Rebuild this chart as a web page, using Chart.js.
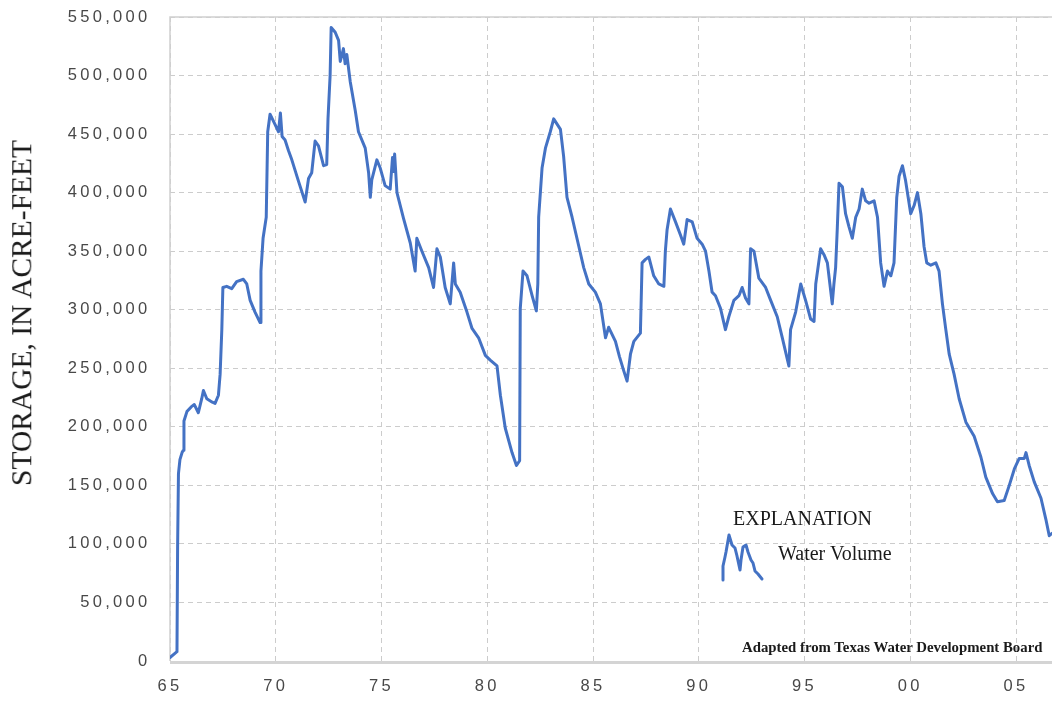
<!DOCTYPE html>
<html>
<head>
<meta charset="utf-8">
<script src="https://cdn.jsdelivr.net/npm/chart.js@4"></script>
<style>
  html, body { margin: 0; padding: 0; background: #ffffff; }
  #wrap { position: relative; width: 1052px; height: 701px; overflow: hidden; background: #ffffff; }
  #chart { position: absolute; left: 0; top: 0; }
  .ytitle {
    position: absolute; left: 22px; top: 313px;
    transform: translate(-50%, -50%) rotate(-90deg);
    font: 29.5px 'Liberation Serif', 'Times New Roman', serif;
    line-height: 1; white-space: nowrap; color: #1a1a1a;
  }
  .legend-head {
    position: absolute; left: 733px; top: 508px;
    font: 20px 'Liberation Serif', 'Times New Roman', serif;
    line-height: 1; white-space: nowrap; color: #1a1a1a;
  }
  .legend-item {
    position: absolute; left: 778px; top: 543px;
    font: 20px 'Liberation Serif', 'Times New Roman', serif;
    line-height: 1; white-space: nowrap; color: #1a1a1a;
  }
  .source {
    position: absolute; left: 742px; top: 640px;
    font: bold 14.8px 'Liberation Serif', 'Times New Roman', serif;
    line-height: 1; white-space: nowrap; color: #1a1a1a;
  }
</style>
</head>
<body>
<div id="wrap">
  <canvas id="chart" width="1052" height="701"></canvas>
  <div class="ytitle">STORAGE, IN ACRE-FEET</div>
  <div class="legend-head">EXPLANATION</div>
  <div class="legend-item">Water Volume</div>
  <div class="source">Adapted from Texas Water Development Board</div>
</div>
<script>
// ---- Data (decimal year, storage in acre-feet) ----
const years = [
  1965.00, 1965.33, 1965.36, 1965.40, 1965.47, 1965.57, 1965.63, 1965.66, 1965.80, 1966.00,
  1966.15, 1966.34, 1966.50, 1966.58, 1966.74, 1967.00, 1967.13, 1967.29, 1967.37, 1967.45,
  1967.50, 1967.68, 1967.92, 1968.15, 1968.47, 1968.63, 1968.79, 1969.02, 1969.26, 1969.30,
  1969.40, 1969.55, 1969.62, 1969.73, 1969.97, 1970.13, 1970.22, 1970.30, 1970.44, 1970.60,
  1970.76, 1971.07, 1971.39, 1971.55, 1971.70, 1971.86, 1972.02, 1972.26, 1972.41, 1972.47,
  1972.57, 1972.62, 1972.81, 1972.97, 1973.05, 1973.20, 1973.28, 1973.36, 1973.52, 1973.76,
  1973.91, 1974.23, 1974.39, 1974.47, 1974.54, 1974.78, 1974.94, 1975.17, 1975.41, 1975.52,
  1975.57, 1975.62, 1975.73, 1976.04, 1976.36, 1976.59, 1976.67, 1976.91, 1977.23, 1977.46,
  1977.62, 1977.78, 1978.01, 1978.25, 1978.41, 1978.49, 1978.72, 1979.04, 1979.28, 1979.59,
  1979.91, 1980.14, 1980.46, 1980.62, 1980.85, 1981.17, 1981.38, 1981.53, 1981.56, 1981.69,
  1981.88, 1982.12, 1982.32, 1982.39, 1982.43, 1982.59, 1982.75, 1982.98, 1983.14, 1983.46,
  1983.61, 1983.77, 1984.01, 1984.33, 1984.56, 1984.80, 1985.11, 1985.35, 1985.59, 1985.74,
  1986.06, 1986.25, 1986.45, 1986.61, 1986.77, 1986.93, 1987.24, 1987.32, 1987.48, 1987.64,
  1987.87, 1988.11, 1988.35, 1988.42, 1988.50, 1988.66, 1988.90, 1989.13, 1989.29, 1989.45,
  1989.69, 1989.92, 1990.16, 1990.32, 1990.48, 1990.63, 1990.79, 1991.03, 1991.26, 1991.42,
  1991.66, 1991.90, 1992.05, 1992.21, 1992.37, 1992.45, 1992.61, 1992.84, 1993.16, 1993.40,
  1993.71, 1993.95, 1994.26, 1994.34, 1994.58, 1994.82, 1995.05, 1995.29, 1995.45, 1995.53,
  1995.76, 1995.92, 1996.08, 1996.31, 1996.39, 1996.47, 1996.55, 1996.63, 1996.79, 1996.94,
  1997.10, 1997.26, 1997.42, 1997.58, 1997.73, 1997.89, 1998.05, 1998.29, 1998.45, 1998.60,
  1998.76, 1998.92, 1999.08, 1999.23, 1999.36, 1999.47, 1999.63, 1999.78, 2000.02, 2000.18,
  2000.34, 2000.50, 2000.65, 2000.78, 2000.97, 2001.21, 2001.36, 2001.52, 2001.68, 2001.84,
  2002.07, 2002.31, 2002.63, 2003.02, 2003.34, 2003.57, 2003.89, 2004.12, 2004.44, 2004.68,
  2004.92, 2005.15, 2005.39, 2005.47, 2005.62, 2005.86, 2006.18, 2006.41, 2006.57, 2006.70
];
const storage = [
  3000, 8000, 98000, 160000, 172000, 178000, 180000, 205000, 213000, 217000,
  219000, 212000, 224000, 231000, 224000, 221000, 220000, 227000, 245000, 283000,
  319000, 320000, 318000, 324000, 326000, 322000, 308000, 298000, 289000, 333000,
  361000, 379000, 452000, 467000, 458000, 452000, 468000, 448000, 445000, 436000,
  428000, 410000, 392000, 412000, 417000, 444000, 440000, 423000, 424000, 463000,
  500000, 541000, 537000, 530000, 512000, 523000, 510000, 518000, 495000, 470000,
  452000, 438000, 417000, 396000, 411000, 428000, 421000, 406000, 403000, 430000,
  418000, 433000, 400000, 378000, 357000, 333000, 361000, 350000, 336000, 319000,
  352000, 345000, 319000, 305000, 340000, 322000, 315000, 298000, 284000, 276000,
  261000, 257000, 252000, 227000, 199000, 178000, 167000, 171000, 301000, 333000,
  329000, 312000, 299000, 322000, 379000, 421000, 438000, 452000, 463000, 454000,
  431000, 396000, 379000, 354000, 336000, 322000, 315000, 305000, 276000, 285000,
  273000, 260000, 248000, 239000, 262000, 273000, 280000, 340000, 343000, 345000,
  329000, 322000, 320000, 350000, 368000, 386000, 375000, 364000, 356000, 377000,
  375000, 361000, 356000, 350000, 333000, 315000, 312000, 301000, 283000, 294000,
  308000, 312000, 319000, 310000, 305000, 352000, 350000, 327000, 319000, 308000,
  294000, 276000, 252000, 283000, 298000, 322000, 308000, 292000, 290000, 322000,
  352000, 347000, 340000, 305000, 322000, 336000, 370000, 408000, 405000, 382000,
  371000, 361000, 379000, 386000, 403000, 393000, 391000, 393000, 379000, 340000,
  320000, 333000, 329000, 340000, 396000, 414000, 423000, 410000, 382000, 389000,
  400000, 382000, 354000, 340000, 338000, 340000, 333000, 305000, 283000, 262000,
  245000, 224000, 204000, 192000, 174000, 157000, 143000, 136000, 137000, 150000,
  164000, 173000, 173000, 178000, 167000, 153000, 139000, 121000, 107000, 109000
];
const xTickValues = [1965, 1970, 1975, 1980, 1985, 1990, 1995, 2000, 2005];
const xTickLabels = ['65', '70', '75', '80', '85', '90', '95', '00', '05'];
const yTickValues = [0, 50000, 100000, 150000, 200000, 250000, 300000, 350000, 400000, 450000, 500000, 550000];

// ---- Styling constants ----
const LINE_BLUE = '#4472C4';
const GRID_GREY = '#cccccc';
const TICK_FONT = { family: "'Liberation Sans', Arial, sans-serif", size: 16.5 };
const TICK_COLOR = '#484848';

// letter spacing for the axis tick labels
const spacingPlugin = {
  id: 'spacing',
  beforeDraw(chart) { chart.ctx.letterSpacing = '3.3px'; },
  afterDraw(chart) { chart.ctx.letterSpacing = '0px'; }
};

// plot frame: top, left, bottom (axis) lines
const framePlugin = {
  id: 'frame',
  beforeDatasetsDraw(chart) {
    const { ctx, chartArea: a } = chart;
    ctx.save();
    ctx.lineCap = 'butt';
    ctx.strokeStyle = '#d0d0d0';
    ctx.lineWidth = 1.5;
    ctx.beginPath();
    ctx.moveTo(a.left, a.bottom);
    ctx.lineTo(a.left, a.top);
    ctx.lineTo(a.right, a.top);
    ctx.stroke();
    ctx.strokeStyle = '#d4d4d4';
    ctx.lineWidth = 3;
    ctx.beginPath();
    ctx.moveTo(a.left, a.bottom + 1.5);
    ctx.lineTo(a.right, a.bottom + 1.5);
    ctx.stroke();
    ctx.restore();
  }
};

// legend symbol: small jagged line next to "Water Volume"
const legendIcon = {
  origin: [723, 580],
  shape: [[0,0],[0,-14],[2,-23],[3,-28],[6,-45],[9,-35],[12,-32],[14,-24],[17,-10],[18,-20],
          [20,-33],[23,-35],[25,-28],[28,-20],[30,-17],[32,-9],[35,-6],[39,-1]]
};
const legendIconPlugin = {
  id: 'legendIcon',
  afterDraw(chart) {
    const ctx = chart.ctx;
    const [ox, oy] = legendIcon.origin;
    ctx.save();
    ctx.strokeStyle = LINE_BLUE;
    ctx.lineWidth = 3;
    ctx.lineJoin = 'round';
    ctx.lineCap = 'round';
    ctx.beginPath();
    legendIcon.shape.forEach(([dx, dy], i) => {
      if (i === 0) ctx.moveTo(ox + dx, oy + dy); else ctx.lineTo(ox + dx, oy + dy);
    });
    ctx.stroke();
    ctx.restore();
  }
};

new Chart(document.getElementById('chart'), {
  type: 'line',
  data: {
    datasets: [{
      label: 'Water Volume',
      data: years.map((x, i) => ({ x, y: storage[i] })),
      borderColor: LINE_BLUE,
      borderWidth: 3,
      pointRadius: 0,
      tension: 0,
      fill: false,
      borderJoinStyle: 'round',
      borderCapStyle: 'round'
    }]
  },
  options: {
    responsive: false,
    animation: false,
    devicePixelRatio: 1,
    layout: { padding: { top: 17, left: 0, right: 0, bottom: 0 } },
    plugins: { legend: { display: false }, tooltip: { enabled: false }, title: { display: false } },
    scales: {
      x: {
        type: 'linear',
        min: 1965,
        max: 2006.7,
        afterBuildTicks: s => { s.ticks = xTickValues.map(v => ({ value: v })); },
        afterFit: s => { s.height = 40; s.paddingLeft = 0; s.paddingRight = 0; },
        ticks: {
          autoSkip: false, maxRotation: 0, padding: 16,
          font: TICK_FONT, color: TICK_COLOR,
          callback: v => { const i = xTickValues.indexOf(v); return i >= 0 ? xTickLabels[i] : ''; }
        },
        grid: { color: GRID_GREY, lineWidth: 1, drawTicks: false },
        border: { display: false, dash: [5, 4] }
      },
      y: {
        type: 'linear',
        min: 0,
        max: 550000,
        afterBuildTicks: s => { s.ticks = yTickValues.map(v => ({ value: v })); },
        afterFit: s => { s.width = 170; s.paddingTop = 0; s.paddingBottom = 0; },
        ticks: {
          padding: 19.5,
          font: TICK_FONT, color: TICK_COLOR,
          callback: v => Number(v).toLocaleString('en-US')
        },
        grid: { color: GRID_GREY, lineWidth: 1, drawTicks: false },
        border: { display: false, dash: [5, 4] }
      }
    }
  },
  plugins: [spacingPlugin, framePlugin, legendIconPlugin]
});
</script>
</body>
</html>
